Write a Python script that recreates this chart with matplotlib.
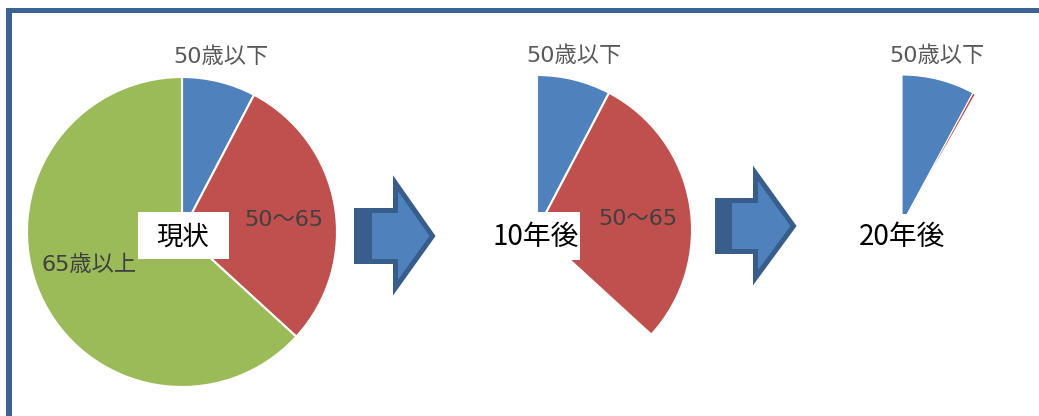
import matplotlib
matplotlib.use("Agg")
import matplotlib.pyplot as plt
from matplotlib.patches import Polygon, Rectangle

plt.rcParams['font.family'] = ['Noto Sans CJK JP', 'DejaVu Sans']

# ---- data ----
categories = ["50歳以下", "50～65", "65歳以上"]
values_now = [7.7, 29.1, 63.2]
values_10y = [7.7, 29.1, 63.2]
values_20y = [7.9, 0.3, 91.8]
shown_now = [True, True, True]
shown_10y = [True, True, False]
shown_20y = [True, True, False]
panel_titles = ["現状", "10年後", "20年後"]
colors = ["#4f81bd", "#c0504d", "#9bbb59"]

W, H = 1039, 416
fig = plt.figure(figsize=(W / 100, H / 100), dpi=100)
ax = fig.add_axes([0, 0, 1, 1])


def Y(y):
    return H - y


def draw_pie(values, shown, cx, cy, r, lw=1.5):
    wedges, _ = ax.pie(values, colors=colors, startangle=90, counterclock=False,
                       center=(cx, Y(cy)), radius=r, frame=True,
                       wedgeprops=dict(edgecolor="white", linewidth=lw))
    for w, s in zip(wedges, shown):
        if not s:
            w.set_visible(False)
    return wedges


draw_pie(values_now, shown_now, 182, 232, 155)
draw_pie(values_10y, shown_10y, 537, 230, 155)
draw_pie(values_20y, shown_20y, 902, 224, 149, lw=0.8)

gray = "#595959"
dark = "#404040"
lab_fs = 16
lab_family = ['DejaVu Sans', 'Noto Sans CJK JP']
# pie 1 labels
ax.text(221, Y(57), categories[0], fontsize=lab_fs, color=gray, ha="center", va="center", family=lab_family)
ax.text(284, Y(220), categories[1], fontsize=lab_fs, color=dark, ha="center", va="center", family=lab_family)
ax.text(89, Y(265), categories[2], fontsize=lab_fs, color=dark, ha="center", va="center", family=lab_family)
# pie 2 labels
ax.text(574, Y(56), categories[0], fontsize=lab_fs, color=gray, ha="center", va="center", family=lab_family)
ax.text(638, Y(219), categories[1], fontsize=lab_fs, color=dark, ha="center", va="center", family=lab_family)
# pie 3 labels
ax.text(937, Y(56), categories[0], fontsize=lab_fs, color=gray, ha="center", va="center", family=lab_family)

# title boxes
ax.add_patch(Rectangle((138, Y(259)), 91, 47, facecolor="white", edgecolor="none", zorder=5))
ax.text(183, Y(237), panel_titles[0], fontsize=19, color="black", ha="center", va="center", zorder=6)
ax.add_patch(Rectangle((495, Y(260)), 85, 48, facecolor="white", edgecolor="none", zorder=5))
ax.text(536, Y(237), panel_titles[1], fontsize=20, color="black", ha="center", va="center", zorder=6)
ax.add_patch(Rectangle((858, Y(260)), 88, 46, facecolor="white", edgecolor="none", zorder=5))
ax.text(902, Y(237), panel_titles[2], fontsize=20, color="black", ha="center", va="center", zorder=6)


# arrows
def arrow(x0, xd, xh, xt, yst, ysb, yht, yhb, yt):
    ins = 2.5
    pts = [(x0 + ins, yst + ins), (xh + ins, yst + ins), (xh + ins, yht + ins * 2.5),
           (xt - ins * 1.8, yt), (xh + ins, yhb - ins * 2.5), (xh + ins, ysb - ins),
           (x0 + ins, ysb - ins)]
    ax.add_patch(Polygon([(x, Y(y)) for x, y in pts], closed=True, facecolor="#4f81bd",
                         edgecolor="#385d8a", linewidth=3.6, joinstyle="miter", zorder=3))
    ax.add_patch(Rectangle((x0, Y(ysb)), xd - x0, ysb - yst, facecolor="#395e8c",
                           edgecolor="none", zorder=4))


arrow(354, 372, 393, 437, 208, 264, 177, 294, 236)
arrow(715, 732, 753, 798, 198, 254, 167, 284, 226)

# frame
ax.add_patch(Rectangle((6, Y(416)), 6, 416 - 8, facecolor="#3d6395", edgecolor="none", zorder=7))
ax.add_patch(Rectangle((6, Y(13)), W - 6, 5, facecolor="#3d6395", edgecolor="none", zorder=7))

ax.set_xlim(0, W)
ax.set_ylim(0, H)
ax.set_aspect("auto")
ax.axis("off")

fig.savefig("out.png", dpi=100, facecolor="white")
